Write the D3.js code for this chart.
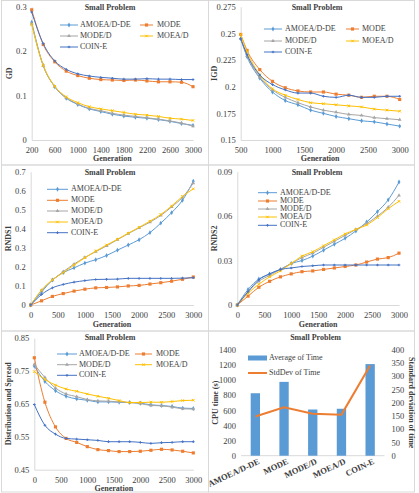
<!DOCTYPE html>
<html><head><meta charset="utf-8">
<script src="https://cdn.jsdelivr.net/npm/d3@7"></script>
<style>body{margin:0;background:#fff}svg{display:block}text{font-family:"Liberation Serif","Times New Roman",serif;fill:#404040}</style>
</head><body><svg id="c" width="419" height="493"></svg>
<script>
// ---------- data ----------
const seriesNames = ["AMOEA/D-DE","MODE","MODE/D","MOEA/D","COIN-E"];
const seriesColors = ["#5B9BD5","#ED7D31","#A5A5A5","#FFC000","#4472C4"];

const gdX = [200,400,600,800,1000,1200,1400,1600,1800,2000,2200,2400,2600,2800,3000];
const gdAMOEA = [0.265,0.168,0.120,0.094,0.080,0.070,0.064,0.058,0.054,0.051,0.049,0.046,0.042,0.037,0.033];
const gdMODE  = [0.293,0.215,0.176,0.155,0.145,0.139,0.136,0.135,0.134,0.135,0.133,0.131,0.131,0.130,0.120];
const gdMODED = [0.262,0.167,0.120,0.095,0.081,0.071,0.066,0.060,0.056,0.053,0.050,0.047,0.043,0.038,0.031];
const gdMOEAD = [0.260,0.168,0.121,0.097,0.084,0.075,0.070,0.066,0.062,0.058,0.056,0.053,0.049,0.047,0.044];
const gdCOIN  = [0.288,0.217,0.178,0.159,0.149,0.144,0.141,0.139,0.137,0.137,0.138,0.137,0.137,0.136,0.136];
const gdXTicks = [200,600,1000,1400,1800,2200,2600,3000];
const gdYTicks = [0,0.1,0.2,0.3];

const igdX = [500,600,800,1000,1200,1400,1600,1800,2000,2200,2400,2600,2800,3000];
const igdAMOEA = [0.245,0.228,0.208,0.195,0.187,0.183,0.178,0.175,0.172,0.170,0.168,0.167,0.165,0.163];
const igdMODE  = [0.249,0.234,0.216,0.205,0.199,0.196,0.195,0.195,0.193,0.192,0.190,0.191,0.191,0.188];
const igdMODED = [0.245,0.229,0.209,0.197,0.190,0.185,0.181,0.178,0.176,0.174,0.173,0.171,0.170,0.169];
const igdMOEAD = [0.249,0.233,0.211,0.198,0.192,0.188,0.185,0.184,0.183,0.182,0.181,0.179,0.178,0.177];
const igdCOIN  = [0.245,0.230,0.211,0.202,0.197,0.194,0.194,0.191,0.190,0.192,0.190,0.190,0.191,0.191];
const igdXTicks = [500,1000,1500,2000,2500,3000];
const igdYTicks = [0.15,0.175,0.2,0.225,0.25,0.275];

const genX = [0,200,400,600,800,1000,1200,1400,1600,1800,2000,2200,2400,2600,2800,3000];
const genXTicks = [0,500,1000,1500,2000,2500,3000];

const r1AMOEA = [0,0.068,0.131,0.170,0.195,0.220,0.238,0.260,0.288,0.315,0.343,0.380,0.430,0.485,0.550,0.650];
const r1MODE  = [0,0.022,0.045,0.060,0.073,0.083,0.090,0.092,0.095,0.100,0.103,0.110,0.117,0.125,0.135,0.147];
const r1MODED = [0,0.077,0.130,0.175,0.215,0.250,0.280,0.310,0.343,0.375,0.405,0.435,0.470,0.515,0.565,0.640];
const r1MOEAD = [0,0.078,0.132,0.170,0.210,0.248,0.283,0.315,0.345,0.377,0.408,0.440,0.475,0.520,0.570,0.610];
const r1COIN  = [0,0.055,0.090,0.108,0.120,0.128,0.134,0.135,0.136,0.140,0.140,0.140,0.140,0.140,0.141,0.143];
const r1YTicks = [0,0.1,0.2,0.3,0.4,0.5,0.6,0.7];

const r2AMOEA = [0,0.0105,0.0175,0.021,0.024,0.028,0.030,0.033,0.037,0.041,0.045,0.050,0.056,0.063,0.071,0.083];
const r2MODE  = [0,0.006,0.012,0.016,0.019,0.021,0.0225,0.023,0.024,0.025,0.026,0.027,0.029,0.031,0.032,0.035];
const r2MODED = [0,0.009,0.016,0.020,0.024,0.028,0.032,0.035,0.039,0.043,0.047,0.051,0.055,0.060,0.066,0.074];
const r2MOEAD = [0,0.008,0.014,0.019,0.023,0.028,0.033,0.036,0.040,0.044,0.048,0.051,0.054,0.059,0.065,0.070];
const r2COIN  = [0,0.009,0.017,0.021,0.024,0.025,0.026,0.0265,0.027,0.027,0.027,0.027,0.027,0.027,0.027,0.027];
const r2YTicks = [0,0.03,0.06,0.09];

const dsAMOEA = [0.765,0.718,0.690,0.673,0.665,0.661,0.656,0.656,0.655,0.654,0.652,0.647,0.645,0.642,0.637,0.636];
const dsMODE  = [0.790,0.655,0.580,0.545,0.533,0.520,0.511,0.508,0.505,0.505,0.506,0.509,0.512,0.510,0.506,0.501];
const dsMODED = [0.770,0.730,0.698,0.680,0.672,0.663,0.659,0.658,0.656,0.654,0.651,0.645,0.644,0.640,0.635,0.634];
const dsMOEAD = [0.748,0.724,0.707,0.695,0.688,0.680,0.673,0.667,0.660,0.654,0.654,0.655,0.655,0.657,0.660,0.661];
const dsCOIN  = [0.648,0.585,0.558,0.545,0.543,0.541,0.539,0.535,0.535,0.535,0.533,0.530,0.532,0.533,0.535,0.535];
const dsYTicks = [0.45,0.55,0.65,0.75,0.85];

const timeCats = ["AMOEA/D-DE","MODE","MODE/D","MOEA/D","COIN-E"];
const timeAvg = [825,975,610,620,1210];
const timeStd = [148,183,158,155,340];
const timeLeftTicks = [0,200,400,600,800,1000,1200,1400];
const timeRightTicks = [0,50,100,150,200,250,300,350,400];

// ---------- drawing ----------
const svg = d3.select("#c");
const FONT = "Liberation Serif";
const AX = "#d9d9d9";

// panel borders
const border = "#d9d9d9";
[[1,0.5,207,164.5],[208,0.5,206,164.5],[1,165,207,166],[208,165,206,166],[1,331,207,161],[208,331,206,161]]
  .forEach(r=>svg.append("rect").attr("x",r[0]+0.5).attr("y",r[1]).attr("width",r[2]).attr("height",r[3])
  .attr("fill","none").attr("stroke",border).attr("stroke-width",1));

const symbols = [d3.symbolDiamond, d3.symbolSquare, d3.symbolTriangle, d3.symbolTimes, d3.symbolCross];
const symSize = [7,10,6,5,4];

function marker(g, i, x, y){
  const s = symbols[i];
  const stroked = (s===d3.symbolTimes);
  g.append("path").attr("d", d3.symbol().type(s).size(symSize[i])())
    .attr("transform",`translate(${x},${y})`)
    .attr("fill", stroked?"none":seriesColors[i])
    .attr("stroke", stroked?seriesColors[i]:"none").attr("stroke-width",1);
}

function linePanel(cfg){
  const g = svg.append("g");
  const x = d3.scaleLinear().domain(cfg.xDomain).range([cfg.x0,cfg.x1]);
  const y = d3.scaleLinear().domain(cfg.yDomain).range([cfg.y1,cfg.y0]);
  // axes
  const ya = g.append("g").attr("transform",`translate(${cfg.x0},0)`)
    .call(d3.axisLeft(y).tickValues(cfg.yTicks).tickSize(0).tickPadding(5).tickFormat(d=>String(+d.toFixed(4))));
  ya.select(".domain").attr("stroke",AX);
  ya.selectAll("text").attr("font-family",FONT).attr("font-size",8.5).attr("fill","#404040");
  const xa = g.append("g").attr("transform",`translate(0,${cfg.y1})`)
    .call(d3.axisBottom(x).tickValues(cfg.xTicks).tickSize(0).tickPadding(7).tickFormat(d=>String(d)));
  xa.select(".domain").attr("stroke",AX);
  xa.selectAll("text").attr("font-family",FONT).attr("font-size",8.5).attr("fill","#404040");
  // title and axis titles
  g.append("text").attr("x",cfg.tx).attr("y",cfg.ty).attr("text-anchor","middle").attr("dominant-baseline","middle")
    .attr("font-weight","bold").attr("font-size",8).text("Small Problem");
  g.append("text").attr("x",(cfg.x0+cfg.x1)/2).attr("y",cfg.gy).attr("text-anchor","middle").attr("dominant-baseline","middle")
    .attr("font-weight","bold").attr("font-size",8).text("Generation");
  g.append("text").attr("transform",`translate(${cfg.lx},${(cfg.y0+cfg.y1)/2}) rotate(-90)`)
    .attr("text-anchor","middle").attr("dominant-baseline","middle")
    .attr("font-weight","bold").attr("font-size",8).text(cfg.ylabel);
  // lines
  const line = d3.line().x(d=>x(d[0])).y(d=>y(d[1])).curve(d3.curveMonotoneX);
  cfg.series.forEach((vals,i)=>{
    const pts = cfg.xs.map((xv,k)=>[xv,vals[k]]);
    g.append("path").attr("d",line(pts)).attr("fill","none").attr("stroke",seriesColors[i]).attr("stroke-width",1);
    pts.forEach(p=>marker(g,i,x(p[0]),y(p[1])));
  });
  // legend
  cfg.legend.forEach((L,i)=>{
    g.append("line").attr("x1",L[0]).attr("x2",L[1]).attr("y1",L[3]).attr("y2",L[3])
      .attr("stroke",seriesColors[i]).attr("stroke-width",1);
    marker(g,i,(L[0]+L[1])/2,L[3]);
    g.append("text").attr("x",L[2]).attr("y",L[3]).attr("dominant-baseline","middle")
      .attr("font-size",8).text(seriesNames[i]);
  });
}

// GD
linePanel({x0:31.7,x1:193,y0:6.7,y1:140,xDomain:[200,3000],yDomain:[0,0.3],xTicks:gdXTicks,yTicks:gdYTicks,
  xs:gdX,series:[gdAMOEA,gdMODE,gdMODED,gdMOEAD,gdCOIN],tx:110,ty:8,gy:159,lx:10,ylabel:"GD",
  legend:[[60,78,80,25],[140,153,157,25],[60,78,80,36],[140,153,157,36],[60,78,80,47]]});
// IGD
linePanel({x0:240.7,x1:399.7,y0:6.7,y1:140,xDomain:[500,3000],yDomain:[0.15,0.275],xTicks:igdXTicks,yTicks:igdYTicks,
  xs:igdX,series:[igdAMOEA,igdMODE,igdMODED,igdMOEAD,igdCOIN],tx:317,ty:8,gy:159,lx:215,ylabel:"IGD",
  legend:[[264,282,285,29],[346,359,362,29],[264,282,285,41],[346,359,362,41],[264,282,285,52]]});
// RNDS1
linePanel({x0:30.7,x1:193.3,y0:171.7,y1:305,xDomain:[0,3000],yDomain:[0,0.7],xTicks:genXTicks,yTicks:r1YTicks,
  xs:genX,series:[r1AMOEA,r1MODE,r1MODED,r1MOEAD,r1COIN],tx:110,ty:173,gy:325,lx:9,ylabel:"RNDS1",
  legend:[[47,68,71,189.3],[47,68,71,200.3],[47,68,71,211],[47,68,71,222],[47,68,71,232.7]]});
// RNDS2
linePanel({x0:237.3,x1:399,y0:171.7,y1:305,xDomain:[0,3000],yDomain:[0,0.09],xTicks:genXTicks,yTicks:r2YTicks,
  xs:genX,series:[r2AMOEA,r2MODE,r2MODED,r2MOEAD,r2COIN],tx:317,ty:173,gy:325,lx:215,ylabel:"RNDS2",
  legend:[[258,277,280,192.7],[258,277,280,201],[258,277,280,209],[258,277,280,217],[258,277,280,225.3]]});
// Distribution and Spread
linePanel({x0:34.3,x1:193.3,y0:338,y1:469.7,xDomain:[0,3000],yDomain:[0.45,0.85],xTicks:genXTicks,yTicks:dsYTicks,
  xs:genX,series:[dsAMOEA,dsMODE,dsMODED,dsMOEAD,dsCOIN],tx:110,ty:338,gy:488.7,lx:9,ylabel:"Distribution and Spread",
  legend:[[57,77,79,354],[135,152,156,354],[57,77,79,364.7],[135,152,156,364.7],[57,77,79,375.3]]});

// CPU time panel
(function(){
  const g = svg.append("g");
  const x0=241, x1=384.5, yTop=349.7, yBot=455.7;
  const x = d3.scaleBand().domain(timeCats).range([x0,x1]).paddingInner(0.675).paddingOuter(0.3375);
  const yl = d3.scaleLinear().domain([0,1400]).range([yBot,yTop]);
  const yr = d3.scaleLinear().domain([0,400]).range([yBot,yTop]);
  const la = g.append("g").attr("transform",`translate(${x0},0)`)
    .call(d3.axisLeft(yl).tickValues(timeLeftTicks).tickSize(0).tickPadding(5).tickFormat(d3.format("d")));
  la.select(".domain").remove();
  la.selectAll("text").attr("font-family",FONT).attr("font-size",8.5).attr("fill","#404040");
  const ra = g.append("g").attr("transform",`translate(${x1},0)`)
    .call(d3.axisRight(yr).tickValues(timeRightTicks).tickSize(0).tickPadding(7).tickFormat(d3.format("d")));
  ra.select(".domain").remove();
  ra.selectAll("text").attr("font-family",FONT).attr("font-size",8.5).attr("fill","#404040");
  g.append("line").attr("x1",x0).attr("x2",x1).attr("y1",yBot).attr("y2",yBot).attr("stroke",AX);
  g.selectAll("rect.bar").data(timeAvg).join("rect").attr("class","bar")
    .attr("x",(d,i)=>x(timeCats[i])).attr("width",x.bandwidth())
    .attr("y",d=>yl(d)).attr("height",d=>yBot-yl(d)).attr("fill","#5B9BD5");
  const line = d3.line().x((d,i)=>x(timeCats[i])+x.bandwidth()/2).y(d=>yr(d));
  g.append("path").attr("d",line(timeStd)).attr("fill","none").attr("stroke","#ED7D31").attr("stroke-width",2);
  // category labels
  timeCats.forEach(c=>{
    g.append("text").attr("transform",`translate(${x(c)+x.bandwidth()/2+4},${yBot+6}) rotate(-25)`)
      .attr("text-anchor","end").attr("dominant-baseline","middle").attr("font-weight","bold")
      .attr("font-size",8.5).text(c);
  });
  g.append("text").attr("x",315.5).attr("y",338).attr("text-anchor","middle").attr("dominant-baseline","middle")
    .attr("font-weight","bold").attr("font-size",8).text("Small Problem");
  g.append("text").attr("transform",`translate(216,${(yTop+yBot)/2}) rotate(-90)`).attr("text-anchor","middle")
    .attr("dominant-baseline","middle").attr("font-weight","bold").attr("font-size",8).text("CPU time (s)");
  g.append("text").attr("transform",`translate(411,${(yTop+yBot)/2}) rotate(90)`).attr("text-anchor","middle")
    .attr("dominant-baseline","middle").attr("font-weight","bold").attr("font-size",8).text("Standard deviation of time");
  // legend
  g.append("rect").attr("x",248).attr("y",355.5).attr("width",19).attr("height",5).attr("fill","#5B9BD5");
  g.append("text").attr("x",269).attr("y",358).attr("dominant-baseline","middle").attr("font-size",8).text("Average of Time");
  g.append("line").attr("x1",248).attr("x2",267).attr("y1",373).attr("y2",373).attr("stroke","#ED7D31").attr("stroke-width",2);
  g.append("text").attr("x",269).attr("y",373).attr("dominant-baseline","middle").attr("font-size",8).text("StdDev of Time");
})();
</script></body></html>
